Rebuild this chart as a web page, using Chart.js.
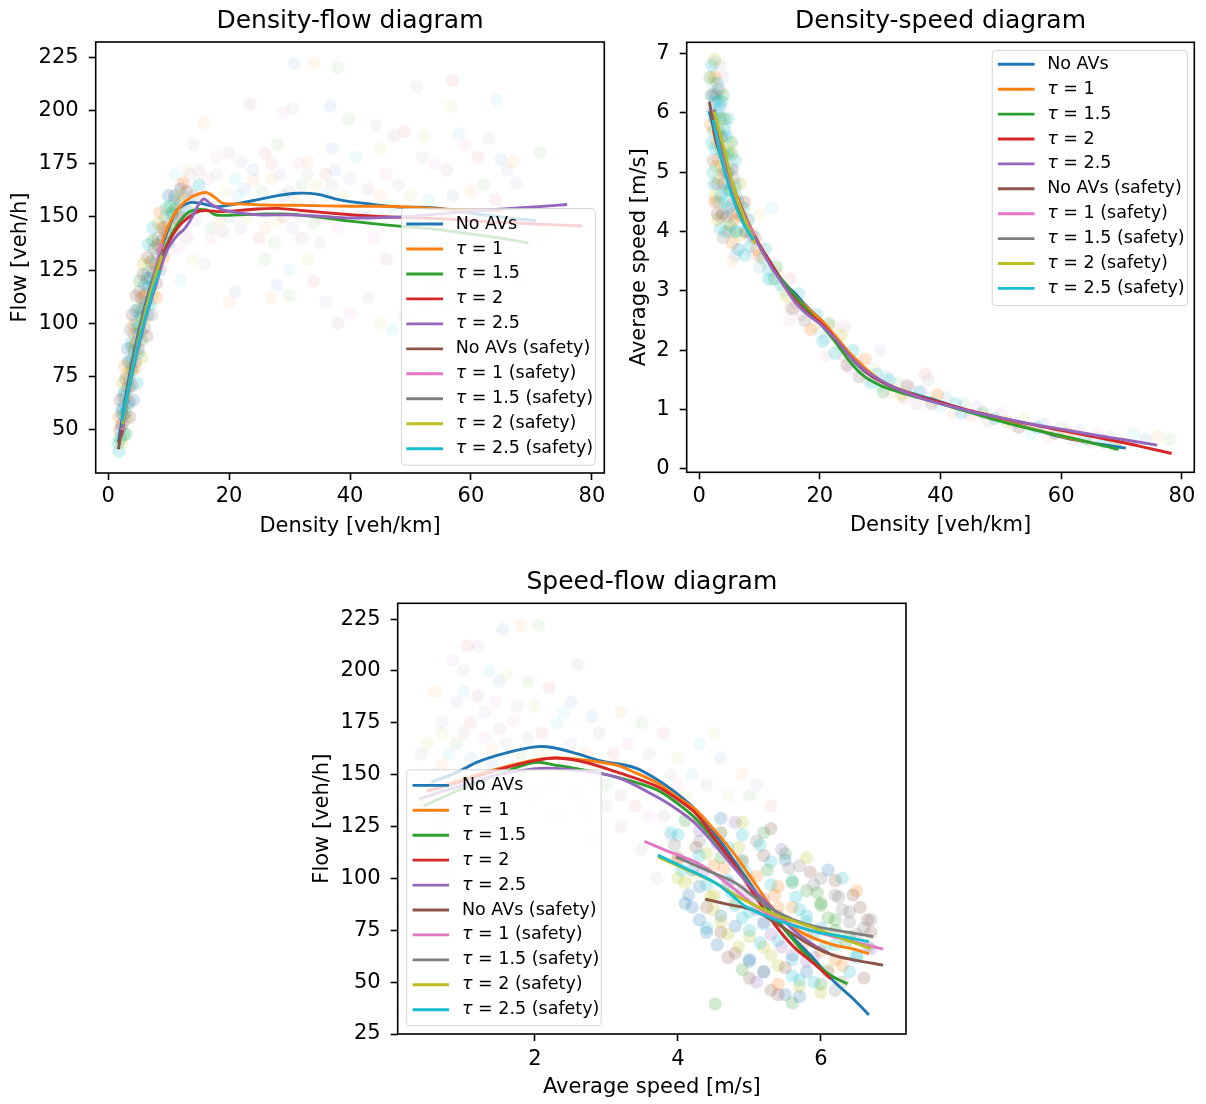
<!DOCTYPE html>
<html>
<head>
<meta charset="utf-8">
<script src="https://cdn.jsdelivr.net/npm/chart.js@4/dist/chart.umd.min.js"></script>
<style>
  html, body { margin: 0; padding: 0; background: #fff; width: 1206px; height: 1104px; overflow: hidden; }
  canvas { position: absolute; }
</style>
</head>
<body>
<canvas id="densityFlow" width="620" height="545" style="left:0;top:0"></canvas>
<canvas id="densitySpeed" width="586" height="545" style="left:620px;top:0"></canvas>
<canvas id="speedFlow" width="620" height="544" style="left:300px;top:560px"></canvas>
<script>
const seriesNames = ["No AVs", "τ = 1", "τ = 1.5", "τ = 2", "τ = 2.5",
  "No AVs (safety)", "τ = 1 (safety)", "τ = 1.5 (safety)", "τ = 2 (safety)", "τ = 2.5 (safety)"];

const tab10 = ["#1f77b4", "#ff7f0e", "#2ca02c", "#d62728", "#9467bd",
  "#8c564b", "#e377c2", "#7f7f7f", "#bcbd22", "#17becf"];

// ---- density-flow: smoothed curves, one per series (density, flow)
const dfCurves = [
  [[1.7,44],[2.6,60],[3.6,76.6],[4.7,91.5],[5.8,104.8],[6.9,116.5],[8,126.7],[9.1,137.7],[10.8,150.2],[11.6,154],[13.5,156.7],[15.2,156.4],[17.9,154.8],[20.1,155.6],[24.6,158],[28,160],[31.2,161.1],[34.5,160.7],[38.3,158],[42.5,156.3],[47.6,154.7],[54,154.2],[60.7,151.5],[65.5,149.8],[70.8,148.2]],
  [[2.2,48],[3.6,74],[5.8,103],[8,125],[9.1,139.2],[10.5,149],[11.9,154.9],[13.5,158.8],[15,160.8],[16.3,161.4],[17.5,159.5],[19,156.4],[21.8,156.1],[26,155.6],[32,155.4],[40,155],[47.6,154.9],[54,153.9],[60,153.3],[65,153]],
  [[2.2,47],[3.6,73],[5.8,101],[8,123],[9.7,137],[11.5,146.5],[13.5,152.5],[16.3,153.3],[17.7,151],[20.1,150.8],[25,151.3],[30,151.3],[35,149.8],[40,148],[47.6,145.8],[54,144.2],[60,142],[65,140],[69.5,137.7]],
  [[2.2,47],[3.6,72],[5.8,100],[8,122],[9.7,136],[11.5,145],[13.5,150.2],[15.2,152.8],[19,152.5],[24,153.6],[28,154],[32,153],[38,151.5],[44,150.3],[47.6,149.9],[54,149.3],[60,148.2],[66,147.3],[72,146.5],[78.4,145.8]],
  [[2.2,47],[3.6,71],[5.8,98],[8,119],[9.7,134],[11.5,141.5],[12.5,144],[13.5,148],[15.7,158.3],[17,156],[19,153.3],[24.6,151],[30,151],[35,150.3],[40,149.5],[47.6,149.9],[54,151.2],[60.7,152.8],[66,153.8],[71,154.8],[75.9,155.8]],
  [[1.7,41],[2.5,54],[3.5,71],[4.7,88],[5.8,101],[7,114],[8.2,126],[9.2,135]],
  [[2.3,50],[3.6,72],[5,92],[6.5,110],[7.8,125],[8.8,137.7]],
  [[2.3,51],[3.6,73],[5,93],[6.5,111],[7.8,124],[8.9,134]],
  [[2.4,53],[3.6,72],[5,91],[6.5,109],[7.8,122],[8.9,132]],
  [[2.3,53.9],[3.6,72],[5,90],[6.5,106],[7.6,117],[8.6,125]]
];
// density-flow measurement clouds (dense free-flow band, scattered congested part)
const dfCore = [[1.8,40],[2.0,46],[2.2,52],[2.5,57],[2.7,62],[3.0,66],[3.2,70],[3.5,74],[3.8,79],[4.0,83],[4.3,87],[4.6,91],[4.9,95],[5.2,99],[5.5,103],[5.8,107],[6.1,110],[6.4,114],[6.7,117],[7.0,121],[7.4,124],[7.8,128],[8.2,132],[8.6,136],[9.0,139],[9.5,143],[10.0,147],[10.6,151],[11.2,154],[12.0,157],
  [2.3,60],[2.7,68],[3.1,76],[3.5,82],[3.9,89],[4.3,95],[4.7,101],[5.1,107],[5.5,112],[6.0,118],[6.5,124],[7.0,129],[7.6,135],[8.2,140],[8.8,145],[9.5,150],[10.2,155],[11,160],[12,163],
  [2.6,48],[3.0,55],[3.5,63],[4.0,71],[4.5,79],[5.0,86],[5.5,92],[6.0,98],[6.5,104],[7.0,109],[7.5,114],[8.0,119],[8.6,125],[9.2,131],[10,138],[11,145],[12,150],[13,153],
  [1.6,44],[2.2,44],[1.9,50],[2.4,53],[1.8,56],[2.2,58],[2.9,58],[2.0,64],[2.5,66],[3.2,62],[2.4,72],[2.9,74],[3.6,70],[2.8,80],[3.3,82],[4.0,78],[4.5,82],[3.2,88],[3.8,91],[4.4,90],[5.0,88],[3.6,97],[4.2,99],[4.8,98],[5.4,96],[4.0,104],[4.6,106],[5.3,104],[5.9,102],[4.6,113],[5.2,115],[5.9,113],[6.5,110],[5.2,120],[5.8,123],[6.5,121],[7.2,118],[5.8,128],[6.5,131],[7.2,129],[8.0,126],[6.6,137],[7.4,139],[8.2,137],[9.0,134],[7.4,145],[8.3,147],[9.2,145],[10,142],[8.6,152],[9.6,154],[10.6,152],[11.5,149],[10,160],[11,158],[12,160],[13,162],[14,160],[12.5,166],[15,165],[3.0,48],[3.6,56],[4.2,64],[4.8,72],[5.6,84],[6.4,94],[7.2,104],[8,112]];
const dfSpread = [[30.8,222],[34,222],[38,220],[57,214],[51,211],[23.5,203],[29,199],[30.5,201],[56.7,202],[64.3,205],[36.7,202],[15.8,194],[39.8,196],[49,190],[44.3,193],[47.3,188],[59,184],[63,187],[52.4,188],[58,189],[65,177],[67,176],[71.4,180],[61.2,178],[67.5,166],[56,172],[54,175],[52,178],[45,182],[41,178],[37,182],[33,176],[28,184],[26,180],[22,176],[20,180],[18,178],[14,184],[13,172],[11,170],[24,172],[27,168],[32,165],[36,170],[40,168],[43,163],[46,170],[48,165],[50,160],[53,158],[57,160],[60,162],[62,165],[64,158],[66,172],[42,150],[38,145],[35,138],[33,130],[30,125],[28,118],[27,112],[26,130],[25,140],[22,145],[19,143],[17,140],[16,128],[14,130],[12,120],[21,115],[20,110],[30,113],[34,120],[36,110],[38,100],[40,105],[43,112],[45,100],[47,97],[49,104],[52,110],[54,118],[56,108],[58,115],[60,120],[62,113],[64,125],[66,130],[68,120],[70,140],[72,145],[74,150],[56,140],[50,138],[46,130],[44,140],[32,150],[28,148],[24,155],[29,160],[31,157],[34,147],
  [12,165],[13.5,170],[15,172],[16.5,168],[18,170],[19.5,162],[21,168],[22.5,163],[24,167],[25.5,162],[27,175],[28.5,170],[30,162],[31.5,175],[33,170],[34.5,165],[36,160],[37.5,172],[26,145],[27.5,138],[29,150],[30.5,145],[32,140],[33.5,155],[35,150],[23,150],[21.5,160],[20,150],[18.5,148],[17,145],[16,160],[14.5,148],[13,140],[11.5,135],[37,165],[39,160],[41,155],[43,150],[45,160],[47,155]];

// ---- density-speed curves (density, speed)
const dsCurves = [
  [[1.7,6.03],[3,5.5],[5,4.85],[7,4.35],[9.2,3.9],[12,3.45],[14,3.15],[16,2.95],[18,2.72],[20.3,2.5],[22.5,2.22],[25.2,1.87],[27.5,1.64],[30.2,1.47],[33,1.35],[36.4,1.24],[40,1.13],[42.6,1.04],[45.7,0.95],[48.8,0.86],[52,0.77],[55,0.68],[58,0.59],[61.1,0.51],[65,0.44],[70.7,0.35]],
  [[2.3,6.0],[3,5.6],[5,4.95],[7,4.42],[9,3.98],[12,3.42],[16,2.9],[20.3,2.5],[22.5,2.25],[25,1.95],[27.5,1.7],[30,1.5],[33,1.35],[36.4,1.22],[40,1.1],[45,0.96],[50,0.82],[55,0.68],[60,0.55],[65,0.44]],
  [[2.3,6.0],[3,5.6],[5,4.9],[7,4.38],[9,3.95],[12,3.42],[16,2.9],[20.3,2.42],[22.5,2.15],[25.2,1.78],[27.5,1.55],[30.2,1.4],[33,1.3],[36.4,1.2],[40,1.1],[45,0.95],[50,0.8],[55,0.67],[60,0.56],[65,0.44],[69.5,0.33]],
  [[2.4,5.7],[3,5.45],[5,4.9],[7,4.4],[9,3.95],[12,3.45],[14,3.1],[16,2.83],[18,2.62],[20.3,2.45],[22.5,2.2],[25,1.9],[27.5,1.65],[30,1.48],[33,1.34],[36,1.23],[40,1.12],[45,0.98],[50,0.86],[55,0.75],[60,0.65],[65,0.55],[70,0.45],[74,0.36],[78.3,0.26]],
  [[2.4,5.9],[3,5.6],[5,4.9],[7,4.4],[9,3.95],[12,3.4],[14,3.1],[16,2.8],[18,2.6],[20.3,2.42],[22.5,2.2],[25,1.9],[27.5,1.66],[30,1.5],[33,1.34],[36,1.22],[40,1.1],[45,0.97],[50,0.86],[55,0.76],[60,0.67],[65,0.58],[70,0.5],[75.9,0.4]],
  [[1.7,6.19],[3,5.5],[5,4.8],[7,4.3],[9,3.85]],
  [[2.4,6.06],[4,5.3],[6,4.6],[8,4.15],[9.2,3.93]],
  [[2.5,6.05],[4,5.35],[6,4.65],[8,4.1],[9.2,3.85]],
  [[2.5,6.02],[4,5.45],[6,4.65],[8,4.1],[9.25,3.8]],
  [[2.35,5.88],[3.5,5.3],[5,4.75],[7,4.2],[8.97,3.86]]
];
const dsCore = [[2.0,6.3],[2.2,6.0],[2.4,5.7],[2.6,5.4],[2.8,5.1],[3.0,4.8],[3.3,4.5],[3.6,4.25],[2.5,6.6],[2.8,6.3],[3.0,6.0],[3.2,5.7],[3.4,5.4],[3.7,5.1],[4.0,4.8],[4.3,4.5],[4.6,4.25],[5.0,4.0],[3.0,6.5],[3.3,6.2],[3.6,5.9],[3.9,5.6],[4.2,5.3],[4.6,5.0],[5.0,4.7],[5.4,4.45],[5.8,4.2],[6.2,4.0],[3.8,6.2],[4.2,5.9],[4.6,5.6],[5.0,5.35],[5.5,5.05],[6.0,4.75],[6.5,4.5],[7.0,4.25],[7.5,4.0],[4.8,5.9],[5.4,5.5],[6.0,5.2],[6.8,4.8],[7.5,4.5],[8.2,4.2],[8.8,3.95],[9.5,3.7],[10.5,3.55],[11.5,3.35],[12.5,3.2],[2.3,5.0],[2.6,4.6],[3.0,4.3],[3.5,4.05],[4.0,3.9],[5.5,3.8],[6.5,3.7],[7.5,3.6],
  [1.8,6.6],[2.1,6.8],[2.6,6.9],[2.2,6.3],[2.6,6.2],[3.2,6.4],[1.9,5.8],[2.6,5.9],[3.4,6.1],[4.0,6.3],[2.1,5.5],[2.9,5.5],[3.6,5.6],[4.3,5.7],[2.3,5.2],[3.1,5.2],[3.9,5.3],[4.7,5.3],[5.4,5.3],[2.5,4.8],[3.3,4.9],[4.1,5.0],[4.9,5.0],[5.7,4.9],[2.8,4.5],[3.6,4.6],[4.4,4.7],[5.2,4.7],[6.1,4.6],[3.1,4.2],[3.9,4.3],[4.8,4.4],[5.6,4.3],[6.5,4.3],[7.2,4.4],[4.4,4.0],[5.2,4.1],[6.0,4.0],[6.8,3.95],[7.8,4.0],[8.4,3.75],[9.2,3.9],[10,3.6],[11,3.7],[11.5,3.2],[12.8,3.4],[13.5,3.1],[14.5,2.9],[15.5,2.7],[16.5,2.95],[17.5,2.5],[18.5,2.35],[19.5,2.6],[20.5,2.15],[21.5,2.45],[22.5,1.95],[23.5,2.25],[24.5,1.75],[25.5,2.0],[26.5,1.55],[27.5,1.85],[28.5,1.45],[29.5,1.6],[30.5,1.3],[31.5,1.5],[33.5,1.25],[34.5,1.4],[36.5,1.3],[38.5,1.1],[39.5,1.25],[42.5,1.1],[43.5,0.95],[47,0.95],[49,0.85],[51,0.8],[53,0.7],[56,0.7],[59,0.6],[61,0.6],[64,0.5],[67,0.45],[69,0.4]];
const dsSpread = [[2.5,6.85],[3,6.6],[2.2,6.5],[2.8,6.3],[3.5,6.4],[2,6.1],[4,6.1],[4.4,5.8],[5,5.5],[5.5,5.1],[6,4.8],[6.5,4.5],[7.5,4.4],[8,4.2],[6.5,3.7],[8.5,3.9],[9,3.6],[10,3.8],[11,3.5],[12,3.2],[10,3.4],[13,3.3],[14,3.0],[15,3.2],[16,2.8],[17,2.6],[15,2.5],[18,2.7],[19,2.4],[20,2.3],[21,2.2],[22,2.4],[23,2.1],[24,1.9],[25,1.7],[26,1.8],[27,1.6],[28,1.5],[29,1.7],[30,1.4],[31,1.55],[32,1.3],[33,1.45],[34,1.2],[35,1.35],[36,1.1],[37,1.3],[38,1.5],[39,1.15],[40,1.05],[41,1.2],[42,0.95],[44,1.1],[45,0.9],[46,1.05],[48,0.8],[50,0.95],[52,0.75],[54,0.85],[55,0.6],[57,0.75],[58,0.55],[60,0.7],[62,0.5],[63,0.65],[65,0.45],[66,0.6],[68,0.55],[70,0.45],[72,0.6],[74,0.5],[76,0.55],[78,0.5],[37.5,1.6],[30,2.0],[24,2.4],[21,1.9],[15,2.7],[10,4.3],[12,4.4],[6,3.6],[5.5,3.5],[5,4.8],[2.5,4.5],[4,6.6],[3.5,6.8]];

// ---- speed-flow curves (speed, flow)
const sfCurves = [
  [[0.55,146.3],[0.9,151],[1.21,156.3],[1.6,160.5],[2.0,163.4],[2.26,163],[2.6,160],[2.92,156.6],[3.2,155],[3.42,153],[3.69,148],[3.97,141.3],[4.25,133],[4.52,121.3],[4.8,107.9],[5.07,94.6],[5.35,81.2],[5.62,71.2],[5.9,61.2],[6.18,50.4],[6.45,42],[6.67,34.2]],
  [[0.49,142.1],[1,148],[1.5,153],[2.0,157.1],[2.3,158],[2.7,157],[3.14,154.6],[3.4,151],[3.69,146.3],[4.0,139],[4.25,133],[4.52,122.9],[4.8,111.2],[5.07,97.9],[5.35,84.5],[5.62,76.2],[5.9,71.2],[6.18,67.9],[6.45,66],[6.67,63.7]],
  [[0.44,134.9],[0.9,142],[1.4,149],[2.0,155.9],[2.3,154.5],[2.59,152.9],[3.14,148.8],[3.69,142.9],[4.0,136],[4.25,128.8],[4.52,118],[4.8,106.2],[5.07,94],[5.35,81.2],[5.62,70],[5.9,59.5],[6.15,53],[6.37,49.2]],
  [[0.49,142],[1.0,147],[1.5,152.5],[2.0,156.8],[2.31,158],[2.7,156],[3.14,151.3],[3.69,144.6],[4.0,138],[4.25,131.3],[4.52,119],[4.8,106.2],[5.07,92],[5.35,77.9],[5.62,67],[5.9,59],[6.14,51.5]],
  [[0.38,138.3],[0.9,144],[1.5,150],[2.0,152.9],[2.3,153],[2.59,152.1],[3.14,148.8],[3.69,139.6],[4.0,133],[4.25,126.3],[4.52,116],[4.8,104.6],[5.07,94],[5.35,84.5],[5.62,75],[5.9,67.9],[6.12,63.7]],
  [[4.38,90],[4.7,87.5],[5.07,84.5],[5.35,79],[5.62,72.9],[5.9,67],[6.18,62.9],[6.5,60.5],[6.87,58.2]],
  [[3.53,117.9],[3.9,112.5],[4.25,107.9],[4.52,102],[4.8,94.6],[5.07,87],[5.35,81.2],[5.62,77.5],[5.9,74.5],[6.4,70],[6.87,65.9]],
  [[3.97,110.4],[4.4,104],[4.8,97.9],[5.07,91],[5.35,84.5],[5.62,80],[5.9,77],[6.3,74.5],[6.73,72]],
  [[3.72,110.4],[4.1,104.5],[4.52,97.9],[4.8,92],[5.07,87.1],[5.4,82],[5.9,76.2],[6.3,71],[6.7,66.2]],
  [[3.72,111.2],[4.1,105],[4.52,97.9],[4.75,92],[4.96,86.2],[5.3,81],[5.9,74.5],[6.3,72],[6.67,69.5]]
];
const sfCore = [[3.9,122],[4.1,128],[4.3,118],[4.0,110],[4.2,104],[4.4,112],[4.6,122],[4.8,127],[4.5,106],[4.7,115],[4.9,108],[5.1,118],[5.3,124],[4.3,96],[4.5,92],[4.7,99],[4.9,94],[5.1,101],[5.3,108],[5.5,112],[5.7,106],[4.4,86],[4.6,82],[4.8,88],[5.0,84],[5.2,90],[5.4,96],[5.6,99],[5.8,94],[6.0,100],[4.6,74],[4.8,77],[5.0,72],[5.2,78],[5.4,82],[5.6,86],[5.8,82],[6.0,88],[6.2,92],[4.8,64],[5.0,60],[5.2,67],[5.4,70],[5.6,63],[5.8,72],[6.0,76],[6.2,80],[6.4,84],[5.0,52],[5.2,55],[5.4,58],[5.6,53],[5.8,60],[6.0,65],[6.2,68],[6.4,72],[6.6,76],[5.3,46],[5.5,44],[5.7,48],[5.9,50],[6.1,55],[6.3,58],[6.5,62],[5.6,40],[6.2,46],[6.6,52],[4.1,88],[4.0,100],[4.4,76],[6.7,66],[6.5,94],[6.3,100],[4.52,39.5],[6.7,80],
  [4.3,128],[4.6,129],[4.9,127],[4.0,121],[4.3,123],[4.6,122],[4.9,121],[5.2,122],[3.95,116],[4.25,115],[4.55,117],[4.85,115],[5.15,116],[5.45,114],[4.0,109],[4.3,111],[4.6,110],[4.9,109],[5.2,111],[5.5,109],[5.8,110],[4.05,104],[4.35,103],[4.65,105],[4.95,103],[5.25,104],[5.55,105],[5.85,103],[6.1,104],[4.1,98],[4.4,97],[4.7,98],[5.0,99],[5.3,97],[5.6,98],[5.9,97],[6.2,99],[4.15,92],[4.45,91],[4.75,93],[5.05,91],[5.35,92],[5.65,91],[5.95,93],[6.25,91],[6.45,92],[4.2,86],[4.5,85],[4.8,87],[5.1,85],[5.4,86],[5.7,85],[6.0,87],[6.3,85],[6.55,86],[4.3,80],[4.6,79],[4.9,81],[5.2,79],[5.5,80],[5.8,79],[6.1,81],[6.4,79],[6.65,80],[4.4,74],[4.7,73],[5.0,75],[5.3,73],[5.6,74],[5.9,73],[6.2,75],[6.5,73],[6.7,74],[4.55,68],[4.85,67],[5.15,69],[5.45,67],[5.75,68],[6.05,67],[6.35,69],[6.65,67],[4.7,62],[5.0,61],[5.3,63],[5.6,61],[5.9,62],[6.2,61],[6.5,63],[4.9,56],[5.2,55],[5.5,57],[5.8,55],[6.1,56],[6.4,55],[5.1,50],[5.4,49],[5.7,51],[6.0,49],[6.3,50],[5.4,44],[5.7,43],[6.0,45]];
const sfSpread = [[1.55,220],[1.8,222],[2.05,222],[1.05,212],[1.2,212],[2.6,203],[0.85,205],[1.0,200],[1.6,198],[1.35,200],[1.5,195],[0.6,190],[1.9,195],[2.2,192],[0.9,185],[1.2,188],[1.45,185],[1.75,183],[2.0,183],[2.4,180],[2.8,178],[3.2,180],[3.5,175],[3.8,170],[0.7,175],[1.0,170],[1.3,168],[1.6,165],[0.5,165],[0.8,160],[1.1,158],[1.4,162],[1.8,160],[2.1,170],[2.5,165],[2.9,170],[3.3,165],[3.6,160],[4.0,158],[4.2,150],[0.6,150],[0.9,145],[1.2,140],[0.4,135],[0.7,128],[1.0,122],[0.5,115],[0.8,105],[1.5,135],[1.8,140],[2.2,145],[2.6,140],[3.0,145],[3.4,135],[2.8,120],[3.2,125],[3.6,130],[3.0,135],[4.5,170],[4.3,165],[4.6,158],[4.9,150],[5.0,140],[5.3,135],[5.1,145],[3.5,114],[3.9,120],[3.7,100],[4.2,100],[2.7,132],
  [0.5,145],[0.7,155],[0.9,165],[1.1,175],[1.3,180],[1.5,172],[1.7,176],[1.9,168],[2.1,160],[2.3,175],[2.5,185],[2.7,160],[2.9,155],[3.1,160],[3.3,150],[3.5,145],[3.7,140],[3.9,150],[4.1,140],[1.2,150],[1.4,155],[1.6,145],[1.8,150],[2.4,155],[2.8,148],[3.2,140],[3.6,150],[4.4,145],[4.7,140],[0.6,140],[0.8,132],[1.0,138],[1.3,128],[2.0,140],[2.3,130],[3.8,130],[4.0,145],[0.4,160],[0.7,170],[1.0,190]];

Chart.defaults.font.family = '"DejaVu Sans", sans-serif';
Chart.defaults.color = "#000";

function toXY(pts) {
  return pts.map(p => ({ x: p[0], y: p[1] }));
}

function withAlpha(hex, a) {
  const n = parseInt(hex.slice(1), 16);
  return `rgba(${n >> 16}, ${(n >> 8) & 255}, ${n & 255}, ${a})`;
}

function cloud(points, alpha, colors, order) {
  return {
    data: toXY(points),
    pointRadius: 6.6,
    pointBorderWidth: 0,
    pointBorderColor: "transparent",
    pointBackgroundColor: points.map((p, i) => withAlpha(colors[i % colors.length], alpha)),
    showLine: false,
    order: order,
  };
}

// axes box (all four spines) drawn over the data, like matplotlib
const framePlugin = {
  id: "frame",
  afterDatasetsDraw(chart) {
    const { ctx, chartArea: a } = chart;
    ctx.save();
    ctx.strokeStyle = "#000";
    ctx.lineWidth = 1.6;
    ctx.strokeRect(a.left, a.top, a.right - a.left, a.bottom - a.top);
    ctx.restore();
  },
};

// matplotlib-like legend box inside the axes
const legendPlugin = {
  id: "boxLegend",
  afterDraw(chart, args, o) {
    const ctx = chart.ctx;
    ctx.save();
    ctx.beginPath();
    ctx.roundRect(o.x0, o.y0, o.x1 - o.x0, o.y1 - o.y0, 3.5);
    ctx.fillStyle = "rgba(255,255,255,0.8)";
    ctx.fill();
    ctx.strokeStyle = "rgba(204,204,204,0.8)";
    ctx.lineWidth = 1;
    ctx.stroke();
    ctx.textBaseline = "middle";
    seriesNames.forEach((name, i) => {
      const y = o.row0 + i * o.step;
      ctx.strokeStyle = tab10[i];
      ctx.lineWidth = 2.9;
      ctx.beginPath();
      ctx.moveTo(o.hx0, y);
      ctx.lineTo(o.hx1, y);
      ctx.stroke();
      ctx.fillStyle = "#000";
      let x = o.tx;
      let rest = name;
      if (name.startsWith("τ")) {
        ctx.font = 'italic 17.5px "DejaVu Sans"';
        ctx.fillText("τ", x, y);
        x += ctx.measureText("τ").width;
        rest = name.slice(1);
      }
      ctx.font = '17.5px "DejaVu Sans"';
      ctx.fillText(rest, x, y);
    });
    ctx.restore();
  },
};

function buildChart(id, c) {
  const datasets = c.curves.map((pts, i) => ({
    label: seriesNames[i],
    data: toXY(pts),
    showLine: true,
    borderColor: tab10[i],
    borderWidth: 2.9,
    pointRadius: 0,
    tension: 0.35,
    fill: false,
    order: 10 - i,
  }));
  datasets.push(cloud(c.spread, c.spreadAlpha, tab10, 101));
  datasets.push(cloud(c.core, c.coreAlpha, c.coreColors, 100));

  const tickFont = { size: 21 };
  return new Chart(document.getElementById(id), {
    type: "scatter",
    data: { datasets },
    options: {
      responsive: false,
      animation: false,
      devicePixelRatio: 1,
      events: [],
      layout: { padding: { left: 0, right: c.padRight, top: 0, bottom: c.padBottom } },
      plugins: {
        legend: { display: false },
        tooltip: { enabled: false },
        title: {
          display: true,
          text: c.title,
          fullSize: false,
          color: "#000",
          font: { size: 25, weight: "normal" },
          padding: c.titlePad,
        },
        boxLegend: c.legend,
      },
      scales: {
        x: {
          type: "linear",
          min: c.xMin,
          max: c.xMax,
          ticks: { stepSize: c.xStep, includeBounds: false, font: tickFont, color: "#000", padding: c.xTickPad, maxRotation: 0 },
          grid: { drawOnChartArea: false, drawTicks: true, tickLength: 7, tickColor: "#000", tickWidth: 1.6 },
          border: { display: false },
          title: { display: true, text: c.xLabel, font: { size: 21 }, color: "#000", padding: c.xTitlePad },
          afterFit: (s) => { s.height = 70; },
        },
        y: {
          type: "linear",
          min: c.yMin,
          max: c.yMax,
          ticks: { stepSize: c.yStep, includeBounds: false, font: tickFont, color: "#000", padding: 10 },
          grid: { drawOnChartArea: false, drawTicks: true, tickLength: 7, tickColor: "#000", tickWidth: 1.6 },
          border: { display: false },
          title: { display: true, text: c.yLabel, font: { size: 21 }, color: "#000", padding: c.yTitlePad },
          afterFit: (s) => { s.width = c.yWidth; },
        },
      },
    },
    plugins: [framePlugin, legendPlugin],
  });
}

buildChart("densityFlow", {
  title: "Density-flow diagram",
  curves: dfCurves, core: dfCore, spread: dfSpread,
  coreAlpha: 0.2, spreadAlpha: 0.07,
  coreColors: ["#17becf", "#2ca02c", "#8c564b", "#1f77b4", "#17becf", "#bcbd22", "#8c564b", "#7f7f7f", "#ff7f0e"],
  xMin: -2.05, xMax: 82.05, xStep: 20, yMin: 29.8, yMax: 232.1, yStep: 25,
  xLabel: "Density [veh/km]", yLabel: "Flow [veh/h]",
  yWidth: 95.7, padRight: 15.7, padBottom: 2,
  titlePad: { top: 6.5, bottom: 5.5 }, xTickPad: 4.3, xTitlePad: 3.7, yTitlePad: 8.2,
  legend: { x0: 401.5, y0: 208.5, x1: 595.3, y1: 465.2, row0: 224, step: 24.97, hx0: 406.3, hx1: 443, tx: 455.7 },
});

buildChart("densitySpeed", {
  title: "Density-speed diagram",
  curves: dsCurves, core: dsCore, spread: dsSpread,
  coreAlpha: 0.2, spreadAlpha: 0.08,
  coreColors: ["#17becf", "#17becf", "#2ca02c", "#17becf", "#bcbd22", "#8c564b", "#17becf", "#7f7f7f", "#ff7f0e"],
  xMin: -2.05, xMax: 82.05, xStep: 20, yMin: -0.057, yMax: 7.19, yStep: 1,
  xLabel: "Density [veh/km]", yLabel: "Average speed [m/s]",
  yWidth: 66.7, padRight: 11.7, padBottom: 2.7,
  titlePad: { top: 6.5, bottom: 5.8 }, xTickPad: 4.9, xTitlePad: 3.7, yTitlePad: 6.7,
  legend: { x0: 372.2, y0: 50.6, x1: 567.5, y1: 305.5, row0: 64.3, step: 24.9, hx0: 377.9, hx1: 414.5, tx: 427.2 },
});

buildChart("speedFlow", {
  title: "Speed-flow diagram",
  curves: sfCurves, core: sfCore, spread: sfSpread,
  coreAlpha: 0.22, spreadAlpha: 0.07,
  coreColors: ["#17becf", "#2ca02c", "#7f7f7f", "#8c564b", "#1f77b4", "#bcbd22", "#17becf", "#9467bd", "#ff7f0e"],
  xMin: 0.08, xMax: 7.19, xStep: 2, yMin: 25, yMax: 232.6, yStep: 25,
  xLabel: "Average speed [m/s]", yLabel: "Flow [veh/h]",
  yWidth: 97.7, padRight: 14, padBottom: 0,
  titlePad: { top: 7.5, bottom: 5.8 }, xTickPad: 5.7, xTitlePad: 3.8, yTitlePad: 10.1,
  legend: { x0: 106.7, y0: 209.8, x1: 301.2, y1: 465.7, row0: 225.4, step: 24.92, hx0: 112.6, hx1: 149, tx: 162 },
});
</script>
</body>
</html>
